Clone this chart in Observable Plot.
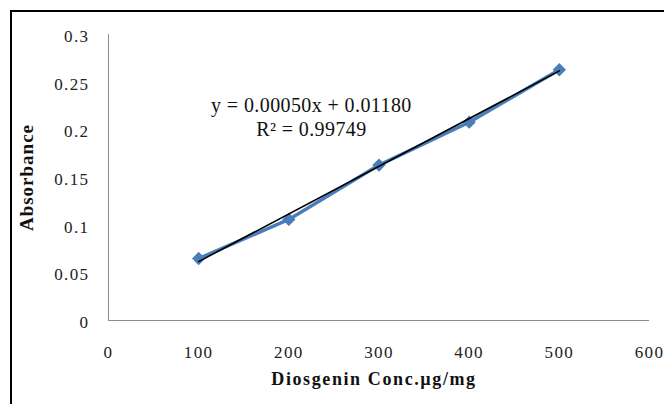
<!DOCTYPE html>
<html>
<head>
<meta charset="utf-8">
<script src="https://cdn.jsdelivr.net/npm/d3@7"></script>
<script src="https://cdn.jsdelivr.net/npm/@observablehq/plot@0.6"></script>
<style>
  html, body { margin: 0; padding: 0; background: #fff; overflow: hidden; }
  #wrap { position: relative; width: 664px; height: 404px; }
  #frame { position: absolute; left: 10px; top: 10px; width: 700px; height: 450px; border: 2px solid #000; box-sizing: border-box; pointer-events: none; }
  #chart { position: absolute; left: 0; top: 0; }
</style>
</head>
<body>
<div id="wrap">
  <div id="chart"></div>
  <div id="frame"></div>
</div>
<script>
const conc = [100, 200, 300, 400, 500];
const absorbance = [0.065, 0.106, 0.163, 0.208, 0.263];
const slope = 0.0005;
const intercept = 0.0118;
const xTicks = [0, 100, 200, 300, 400, 500, 600];
const yTicks = [0, 0.05, 0.1, 0.15, 0.2, 0.25, 0.3];
const eqLabels = ["y = 0.00050x + 0.01180", "R² = 0.99749"];
const xTitle = "Diosgenin Conc.µg/mg";
const yTitle = "Absorbance";

const pts = conc.map((c, i) => ({x: c, y: absorbance[i]}));
const trend = [conc[0], conc[conc.length - 1]].map(c => ({x: c, y: slope * c + intercept}));

const font = "'Liberation Serif', 'Times New Roman', serif";

const chart = Plot.plot({
  width: 664,
  height: 404,
  marginLeft: 108,
  marginRight: 15,
  marginTop: 34,
  marginBottom: 84,
  style: { fontFamily: font, fontSize: "17px", color: "#222", background: "transparent" },
  x: { domain: [0, 600] },
  y: { domain: [0, 0.3] },
  marks: [
    Plot.axisX({ ticks: xTicks, tickSize: 0, tickPadding: 25, label: null, tickFormat: d => String(d), fontSize: 17 }),
    Plot.axisY({ ticks: yTicks, tickSize: 0, tickPadding: 19, dy: 2, label: null, tickFormat: d => String(d), fontSize: 17 }),
    Plot.ruleX([0], { stroke: "#8c8c8c", strokeWidth: 1 }),
    Plot.ruleY([0], { stroke: "#8c8c8c", strokeWidth: 1 }),
    Plot.line(pts, { x: "x", y: "y", stroke: "#4a7ebb", strokeWidth: 3.5 }),
    Plot.dot(pts, { x: "x", y: "y", symbol: "diamond2", r: 6, fill: "#4a7ebb", stroke: "none" }),
    Plot.line(trend, { x: "x", y: "y", stroke: "#000", strokeWidth: 1.6 }),
    Plot.text([eqLabels[0]], { x: 225, y: 0.2256, text: d => d, fontSize: 20, fill: "#111" }),
    Plot.text([eqLabels[1]], { x: 225, y: 0.2006, text: d => d, fontSize: 20, fill: "#111" }),
    Plot.text([xTitle], { frameAnchor: "bottom", lineAnchor: "middle", dy: 59, dx: -5, text: d => d, fontSize: 18, fontWeight: "bold", fill: "#111" }),
    Plot.text([yTitle], { frameAnchor: "left", textAnchor: "middle", lineAnchor: "middle", dx: -82, rotate: -90, text: d => d, fontSize: 19, fontWeight: "bold", fill: "#111" })
  ]
});
document.getElementById("chart").appendChild(chart);
const svg = d3.select(chart);
svg.selectAll('g[aria-label="x-axis tick label"] text, g[aria-label="y-axis tick label"] text').style("letter-spacing", "1.4px");
svg.selectAll("text").filter(function () { return this.textContent === xTitle; }).style("letter-spacing", "1.6px");
svg.selectAll("text").filter(function () { return this.textContent === yTitle; }).style("letter-spacing", "1px");
svg.selectAll("text").filter(function () { return eqLabels.includes(this.textContent); }).style("letter-spacing", "0.4px");
</script>
</body>
</html>
